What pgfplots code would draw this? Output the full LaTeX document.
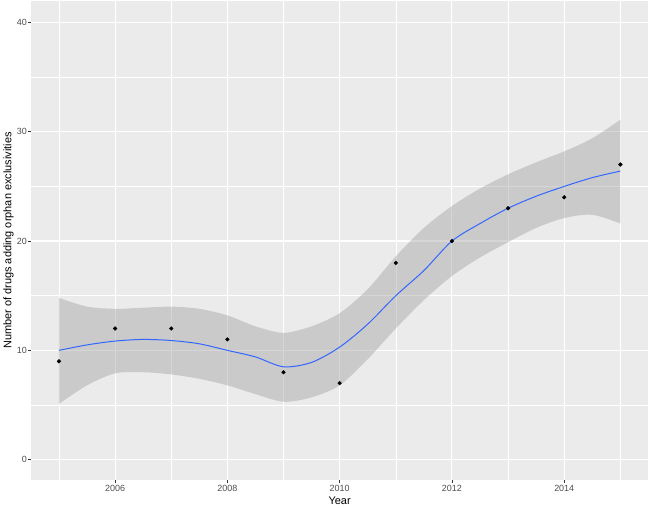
\documentclass[border=0pt]{standalone}
\usepackage{fontspec}
\setmainfont{Liberation Sans}
\usepackage{pgfplots}
\pgfplotsset{compat=1.18}
\usepgfplotslibrary{fillbetween}
\definecolor{panel}{HTML}{EBEBEB}
\definecolor{cSmooth}{HTML}{3366FF}
\definecolor{ticktext}{HTML}{4D4D4D}

\begin{document}
\begin{tikzpicture}
\begin{axis}[scale only axis, width=619pt, height=481pt,
  xmin=2004.5, xmax=2015.5, ymin=-1.9, ymax=42,
  axis background/.style={fill=panel}, axis line style={draw=none},
  xtick={2006,2008,...,2014}, ytick={0,10,...,40},
  minor xtick={2005,2007,...,2015}, minor ytick={5,15,...,35},
  grid=both, major grid style={white, line width=1.1pt},
  minor grid style={white, line width=0.55pt},
  tick align=outside, xtick pos=bottom, ytick pos=left,
  major tick length=3pt, minor tick length=0pt,
  tick style={color=black!80, line width=0.5pt},
  ticklabel style={font=\fontsize{9}{10}\selectfont, text=ticktext},
  yticklabel style={inner xsep=0.8pt}, xticklabel style={inner ysep=2pt},
  /pgf/number format/1000 sep={}, /pgf/number format/assume math mode=true,
  xlabel={Year}, ylabel={Number of drugs adding orphan exclusivities},
  label style={font=\fontsize{11}{12}\selectfont},
  xlabel style={yshift=1pt}, ylabel style={yshift=-1pt}]

% loess confidence band
\addplot[name path=up, draw=none, smooth] coordinates {
  (2005,14.8) (2005.5,14.0) (2006,13.8) (2006.5,13.9) (2007,14.0) (2007.5,13.8)
  (2008,13.2) (2008.5,12.2) (2009,11.6) (2009.5,12.2) (2010,13.4) (2010.5,15.6)
  (2011,18.6) (2011.5,21.2) (2012,23.2) (2012.5,24.8) (2013,26.1) (2013.5,27.2)
  (2014,28.2) (2014.5,29.4) (2015,31.1)};
\addplot[name path=lo, draw=none, smooth] coordinates {
  (2005,5.1) (2005.5,6.8) (2006,7.9) (2006.5,8.0) (2007,7.8) (2007.5,7.4)
  (2008,6.8) (2008.5,6.0) (2009,5.3) (2009.5,5.7) (2010,6.8) (2010.5,9.2)
  (2011,12.0) (2011.5,14.6) (2012,16.8) (2012.5,18.5) (2013,19.9) (2013.5,21.2)
  (2014,22.1) (2014.5,22.4) (2015,21.6)};
\addplot[fill=black!40, fill opacity=0.4, draw=none] fill between[of=up and lo];

% loess fit
\addplot[cSmooth, line width=1pt, smooth] coordinates {
  (2005,10.0) (2005.5,10.5) (2006,10.85) (2006.5,11.0) (2007,10.9) (2007.5,10.6)
  (2008,10.0) (2008.5,9.4) (2009,8.5) (2009.5,8.9) (2010,10.3) (2010.5,12.4)
  (2011,15.0) (2011.5,17.3) (2012,20.0) (2012.5,21.6) (2013,23.0) (2013.5,24.1)
  (2014,25.0) (2014.5,25.8) (2015,26.4)};

% observed counts
\addplot[only marks, mark=*, mark size=1.9pt, black] coordinates {
  (2005,9) (2006,12) (2007,12) (2008,11) (2009,8) (2010,7)
  (2011,18) (2012,20) (2013,23) (2014,24) (2015,27)};
\end{axis}
\end{tikzpicture}
\end{document}
